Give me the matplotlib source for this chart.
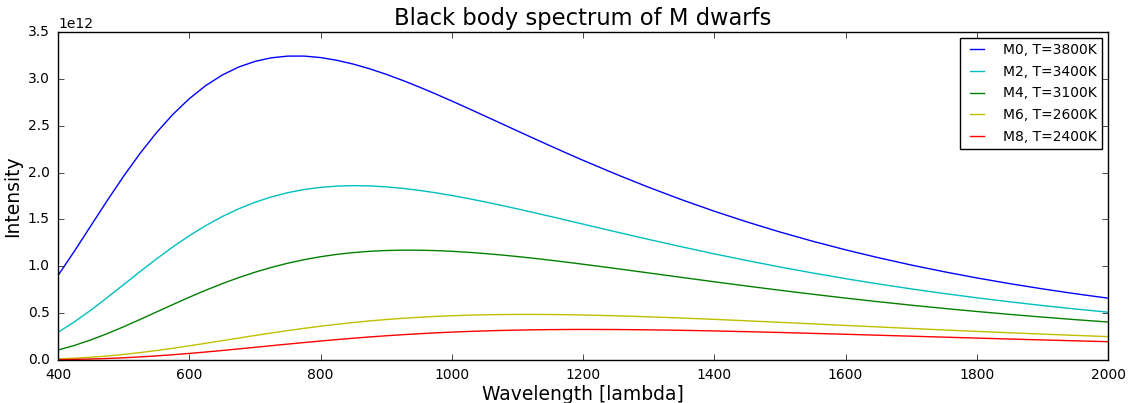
import matplotlib
matplotlib.use("Agg")
import matplotlib.pyplot as plt

wavelength = list(range(400, 1201, 25)) + list(range(1250, 2001, 50))

m0_3800 = [0.9010, 1.1612, 1.4315, 1.7012, 1.9614, 2.2045, 2.4253, 2.6205, 2.7882, 2.9276,
           3.0397, 3.1254, 3.1861, 3.2245, 3.2427, 3.2430, 3.2273, 3.1980, 3.1574, 3.1072,
           3.0489, 2.9840, 2.9142, 2.8403, 2.7638, 2.6851, 2.6054, 2.5250, 2.4445, 2.3646,
           2.2855, 2.2076, 2.1311,
           1.9835, 1.8432, 1.7112, 1.5878, 1.4729, 1.3661, 1.2672, 1.1759, 1.0916, 1.0138,
           0.9421, 0.8760, 0.8152, 0.7591, 0.7075, 0.6598]
m2_3400 = [0.2958, 0.4070, 0.5318, 0.6658, 0.8044, 0.9431, 1.0783, 1.2066, 1.3257, 1.4336,
           1.5294, 1.6125, 1.6825, 1.7399, 1.7852, 1.8190, 1.8422, 1.8557, 1.8605, 1.8577,
           1.8476, 1.8316, 1.8106, 1.7849, 1.7556, 1.7232, 1.6882, 1.6511, 1.6127, 1.5730,
           1.5325, 1.4915, 1.4502,
           1.3679, 1.2869, 1.2083, 1.1329, 1.0610, 0.9928, 0.9286, 0.8682, 0.8117, 0.7589,
           0.7096, 0.6638, 0.6210, 0.5813, 0.5444, 0.5101]
m4_3100 = [0.1063, 0.15530, 0.2141, 0.28112, 0.3546, 0.43227, 0.5120, 0.59177, 0.6696, 0.74409,
           0.8140, 0.87829, 0.9364, 0.98782, 1.0325, 1.0705, 1.1020, 1.1271, 1.1462, 1.1599,
           1.1683, 1.1721, 1.1717, 1.1675, 1.1599, 1.1494, 1.1363, 1.1211, 1.1039, 1.0852,
           1.0651, 1.0440, 1.0219,
           0.9763, 0.9291, 0.8817, 0.8348, 0.7888, 0.7444, 0.7016, 0.6608, 0.6219, 0.5851,
           0.5504, 0.5176, 0.4868, 0.4579, 0.4307, 0.4053]
m6_2600 = [0.01141, 0.019017, 0.02945, 0.042941, 0.05949, 0.078959, 0.10103, 0.12530, 0.15125, 0.17835,
           0.20610, 0.23393, 0.26140, 0.28811, 0.31368, 0.33783, 0.36037, 0.38115, 0.39998, 0.41692,
           0.43180, 0.44476, 0.45579, 0.46500, 0.47243, 0.47820, 0.48232, 0.48503, 0.48640, 0.48650,
           0.48543, 0.48338, 0.48039,
           0.47203, 0.46099, 0.44801, 0.43357, 0.41811, 0.40202, 0.38559, 0.36910, 0.35270, 0.33654,
           0.32076, 0.30545, 0.29062, 0.27639, 0.26270, 0.24964]
m8_2400 = [0.003603, 0.006425, 0.01057, 0.016262, 0.02365, 0.032803, 0.04368, 0.056179, 0.07012, 0.085265,
           0.10136, 0.11811, 0.13523, 0.15246, 0.16955, 0.18625, 0.20238, 0.21780, 0.23236, 0.24593,
           0.25846, 0.26987, 0.28021, 0.28938, 0.29744, 0.30441, 0.31031, 0.31520, 0.31909, 0.32207,
           0.32420, 0.32550, 0.32607,
           0.32516, 0.32195, 0.31683, 0.31019, 0.30234, 0.29361, 0.28425, 0.27442, 0.26437, 0.25415,
           0.24396, 0.23383, 0.22391, 0.21416, 0.20469, 0.19553]

series = [
    ("M0, T=3800K", m0_3800, "b"),
    ("M2, T=3400K", m2_3400, "c"),
    ("M4, T=3100K", m4_3100, "g"),
    ("M6, T=2600K", m6_2600, "y"),
    ("M8, T=2400K", m8_2400, "r"),
]
scale = 1e12

plt.style.use("classic")
plt.rcParams["font.family"] = ["DejaVu Sans"]

fig = plt.figure(figsize=(11.37, 4.03), dpi=100, facecolor="white")
ax = fig.add_axes([58 / 1137, 1 - 360 / 403, (1108 - 58) / 1137, (360 - 32) / 403])
ax.set_facecolor("white")

for label, vals, col in series:
    ax.plot(wavelength, [v * scale for v in vals], color=col, lw=1.0, label=label)

ax.set_xlim(400, 2000)
ax.set_ylim(0, 3.5e12)
ax.set_title("Black body spectrum of M dwarfs", fontsize=16.3)
ax.set_xlabel("Wavelength [lambda]", fontsize=13.5, labelpad=2)
ax.set_ylabel("Intensity", fontsize=13.5, labelpad=4)
ax.tick_params(labelsize=10, direction="in", top=True, right=True, pad=6)
ax.yaxis.get_offset_text().set_fontsize(10)
leg = ax.legend(loc="upper right", fontsize=10, fancybox=False,
                handlelength=1.6, handletextpad=1.1, labelspacing=0.55,
                borderaxespad=0.4)
leg.get_frame().set_edgecolor("black")

fig.savefig("out.png", dpi=100, facecolor="white")
